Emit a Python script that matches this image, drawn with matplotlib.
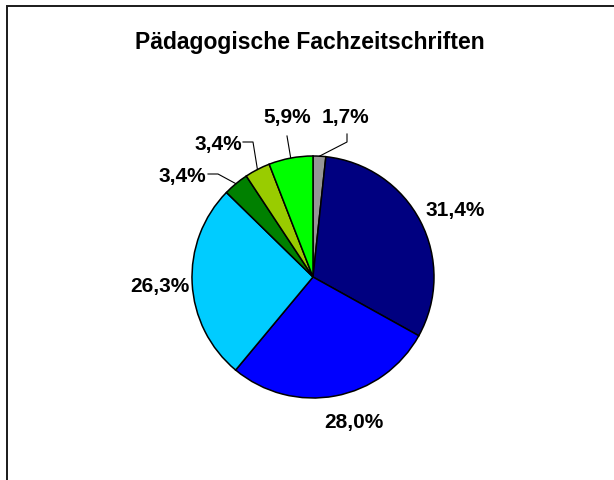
import matplotlib
matplotlib.use("Agg")
import matplotlib.pyplot as plt
from matplotlib.patches import Rectangle
import numpy as np

# data (percent shares, clockwise from 12 o'clock)
labels = ["1,7%", "31,4%", "28,0%", "26,3%", "3,4%", "3,4%", "5,9%"]
values = [1.7, 31.4, 28.0, 26.3, 3.4, 3.4, 5.9]
colors = ["#969696", "#000080", "#0000FF", "#00CCFF", "#008000", "#99CC00", "#00FF00"]
title = "Pädagogische Fachzeitschriften"

W, H = 614, 481
CX, CY, R = 313, 278, 121          # pie centre / radius in pixels (y from top)

# label baseline positions (pixels, y from top) and leader polylines start/elbow
label_pos = [(345, 123), (455, 216), (354, 428), (160, 292), (182, 182), (218, 150), (287, 123)]
leaders = {0: [(347, 135), (347, 143)],
           4: [(208, 175), (218, 175)],
           5: [(243, 143), (253, 143)],
           6: [(287, 137)]}

plt.rcParams["font.family"] = ["Liberation Sans", "DejaVu Sans"]

fig = plt.figure(figsize=(W / 100, H / 100), dpi=100)
ax = fig.add_axes([0, 0, 1, 1])

wedges, _ = ax.pie(values, colors=colors, startangle=90, counterclock=False,
                   center=(CX, H - CY), radius=R,
                   wedgeprops=dict(edgecolor="black", linewidth=1.1))

for i, (lab, (x, y)) in enumerate(zip(labels, label_pos)):
    ax.text(x, H - y, lab, ha="center", va="baseline", fontsize=15, fontweight="bold")
    if i in leaders:
        w = wedges[i]
        mid = np.deg2rad((w.theta1 + w.theta2) / 2)
        ex, ey = CX + R * np.cos(mid), (H - CY) + R * np.sin(mid)
        pts = [(px, H - py) for px, py in leaders[i]] + [(ex, ey)]
        xs, ys = zip(*pts)
        ax.plot(xs, ys, color="black", lw=0.8)

ax.text(310, H - 49, title, ha="center", va="baseline", fontsize=16.5, fontweight="bold")

# outer frame (cropped on the right and bottom)
ax.add_patch(Rectangle((6.5, -20), 700, H - 6.5 + 20, fill=False,
                       edgecolor="#1a1a1a", lw=1.4, clip_on=False))

ax.set_xlim(0, W)
ax.set_ylim(0, H)
ax.set_aspect("equal")
ax.axis("off")

fig.savefig("out.png", dpi=100)
